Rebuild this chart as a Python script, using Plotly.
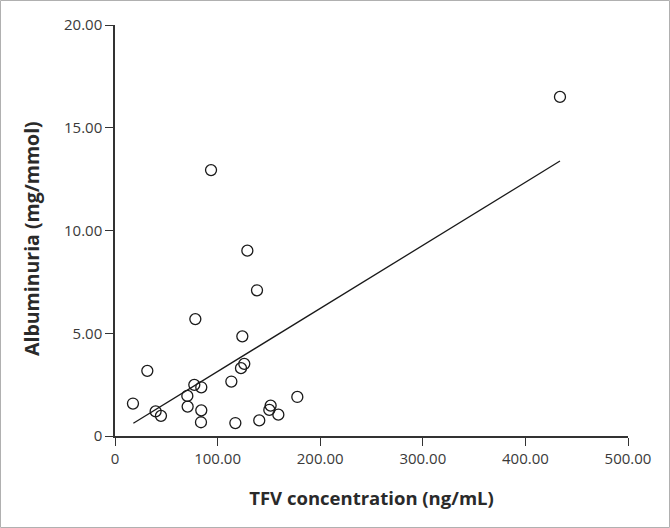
import plotly.graph_objects as go

tfv = [93.6, 129.0, 138.4, 78.3, 124.1, 126.0, 122.8, 31.5, 113.4, 77.3, 84.1, 70.5,
       177.7, 17.5, 70.8, 151.7, 150.4, 39.6, 84.1, 44.8, 159.2, 140.6, 83.8, 117.3, 433.7]
alb = [12.94, 9.02, 7.09, 5.69, 4.85, 3.51, 3.30, 3.17, 2.65, 2.49, 2.37, 1.95,
       1.90, 1.58, 1.43, 1.48, 1.27, 1.20, 1.25, 0.98, 1.04, 0.76, 0.67, 0.63, 16.5]
fit_x = [17.9, 433.7]
fit_y = [0.62, 13.38]
x_ticks = [0, 100, 200, 300, 400, 500]
x_ticktext = ["0", "100.00", "200.00", "300.00", "400.00", "500.00"]
y_ticks = [0, 5, 10, 15, 20]
y_ticktext = ["0", "5.00", "10.00", "15.00", "20.00"]

FONT = "'Open Sans', sans-serif"

fig = go.Figure()
fig.add_trace(go.Scatter(x=fit_x, y=fit_y, mode="lines",
                         line=dict(color="#1a1a1a", width=1.3), showlegend=False))
fig.add_trace(go.Scatter(x=tfv, y=alb, mode="markers",
                         marker=dict(symbol="circle-open", size=11, color="#1a1a1a",
                                     line=dict(width=1.3, color="#1a1a1a")),
                         showlegend=False))

W, H = 670, 528
L, R, T, B = 115, 42, 25, 92
pw, ph = W - L - R, H - T - B

fig.update_layout(
    width=W, height=H,
    margin=dict(l=L, r=R, t=T, b=B),
    paper_bgcolor="white", plot_bgcolor="white",
    font=dict(family=FONT, color="#333333", size=15),
    xaxis=dict(range=[0, 500], tickvals=x_ticks, ticktext=x_ticktext,
               showgrid=False, zeroline=False, showline=True, linecolor="#333333",
               linewidth=1.5, ticks="outside", ticklen=8, tickwidth=1.3, tickcolor="#333333",
               tickfont=dict(size=15, color="#3a3a3a"),
               title=dict(text="<b>TFV concentration (ng/mL)</b>", standoff=25,
                          font=dict(size=18.5, color="#2a2a2a"))),
    yaxis=dict(range=[0, 20], tickvals=y_ticks, ticktext=y_ticktext,
               showgrid=False, zeroline=False, showline=True, linecolor="#333333",
               linewidth=1.5, ticks="outside", ticklen=8, tickwidth=1.3, tickcolor="#333333",
               tickfont=dict(size=15, color="#3a3a3a")),
    annotations=[dict(text="<b>Albuminuria (mg/mmol)</b>", textangle=-90,
                      xref="paper", yref="paper", x=(31 - L) / pw, y=(436 - 239) / ph,
                      xanchor="center", yanchor="middle", showarrow=False,
                      font=dict(size=19.5, color="#2a2a2a"))],
    shapes=[dict(type="rect", xref="paper", yref="paper",
                 x0=(-L + 0.5) / pw, x1=(pw + R - 0.5) / pw,
                 y0=(-B + 0.5) / ph, y1=(ph + T - 0.5) / ph,
                 line=dict(color="#b0b0b0", width=1))],
)

fig.write_html("out.html", config={"displayModeBar": False},
               post_script="document.body.style.margin='0';")
